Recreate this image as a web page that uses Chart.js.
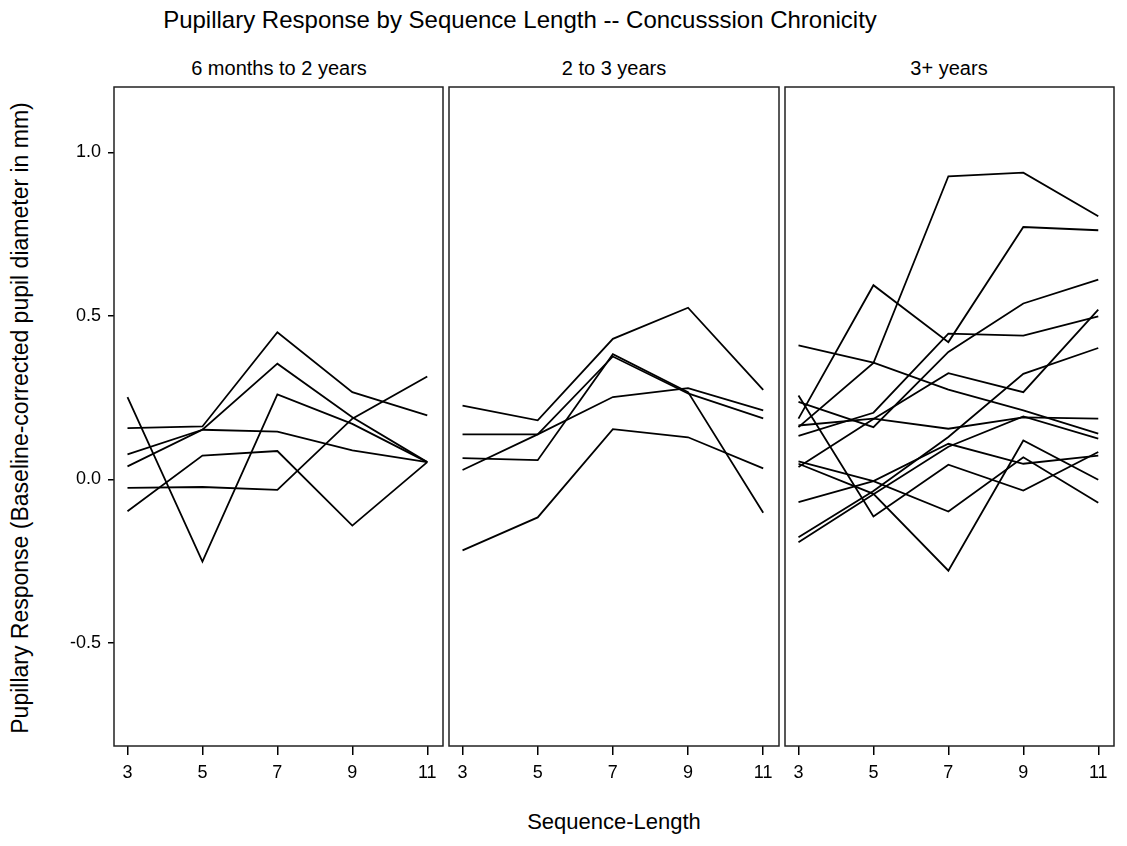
<!DOCTYPE html>
<html><head><meta charset="utf-8">
<script src="https://cdn.jsdelivr.net/npm/chart.js@4.4.1/dist/chart.umd.min.js"></script>
<style>
html,body{margin:0;padding:0;background:#fff;}
#wrap{position:relative;width:1127px;height:846px;background:#fff;font-family:"Liberation Sans",Arial,sans-serif;color:#000;overflow:hidden;}
.t{position:absolute;white-space:nowrap;line-height:1;transform:translate(-50%,-50%);}
canvas{position:absolute;}
</style></head><body>
<div id="wrap">
  <div class="t" id="title" style="left:520px;top:20px;font-size:24px;">Pupillary Response by Sequence Length -- Concusssion Chronicity</div>
  <div class="t" id="p1" style="left:279px;top:68px;font-size:20px;"></div>
  <div class="t" id="p2" style="left:614px;top:68px;font-size:20px;"></div>
  <div class="t" id="p3" style="left:949px;top:68px;font-size:20px;"></div>
  <div class="t" style="left:20px;top:418px;font-size:23px;transform:translate(-50%,-50%) rotate(-90deg);">Pupillary Response (Baseline-corrected pupil diameter in mm)</div>
  <div class="t" style="left:614px;top:822px;font-size:22px;">Sequence-Length</div>
  <canvas id="c1"></canvas>
  <canvas id="c2"></canvas>
  <canvas id="c3"></canvas>
</div>
<script>
// ---- data ----
const panelTitles = ["6 months to 2 years", "2 to 3 years", "3+ years"];
const sequenceLengths = [3, 5, 7, 9, 11];
const xTicks = [3, 5, 7, 9, 11];
const yTicks = [-0.5, 0.0, 0.5, 1.0];

const panel1 = [
  [0.157, 0.162, 0.450, 0.267, 0.196],
  [0.077, 0.152, 0.354, 0.190, 0.053],
  [0.040, 0.152, 0.146, 0.089, 0.053],
  [0.252, -0.251, 0.260, 0.170, 0.053],
  [-0.097, 0.073, 0.087, -0.141, 0.053],
  [-0.026, -0.023, -0.032, 0.186, 0.315]
];
const panel2 = [
  [0.226, 0.181, 0.430, 0.525, 0.274],
  [0.138, 0.138, 0.376, 0.263, 0.187],
  [0.029, 0.138, 0.252, 0.279, 0.211],
  [0.065, 0.059, 0.383, 0.267, -0.102],
  [-0.217, -0.116, 0.154, 0.129, 0.034]
];
const panel3 = [
  [0.160, 0.356, 0.927, 0.938, 0.805],
  [0.186, 0.594, 0.420, 0.772, 0.762],
  [0.410, 0.357, 0.275, 0.211, 0.140],
  [0.257, -0.113, 0.045, -0.034, 0.084],
  [0.237, 0.160, 0.390, 0.538, 0.611],
  [0.133, 0.204, 0.446, 0.440, 0.499],
  [0.038, 0.185, 0.325, 0.267, 0.519],
  [0.165, 0.186, 0.155, 0.190, 0.186],
  [0.055, -0.005, -0.098, 0.068, -0.071],
  [0.048, -0.044, -0.279, 0.119, -0.001],
  [-0.069, -0.005, 0.109, 0.048, 0.073],
  [-0.177, -0.035, 0.130, 0.323, 0.402],
  [-0.192, -0.045, 0.100, 0.193, 0.125]
];

// ---- layout ----
const FONT = '"Liberation Sans", Arial, sans-serif';
Chart.defaults.font.family = FONT;
Chart.defaults.color = '#000';

document.getElementById('p1').textContent = panelTitles[0];
document.getElementById('p2').textContent = panelTitles[1];
document.getElementById('p3').textContent = panelTitles[2];

const frameTop = 87, frameBottom = 746;
const frames = [[114, 443], [449, 779], [785, 1114]];
const PAD = 2, XAXIS_H = 48;

const framePlugin = {
  id: 'frame',
  afterDraw(chart) {
    const a = chart.chartArea, ctx = chart.ctx;
    ctx.save();
    ctx.strokeStyle = '#222';
    ctx.lineWidth = 1.5;
    ctx.strokeRect(a.left, a.top, a.right - a.left, a.bottom - a.top);
    ctx.restore();
  }
};

function makePanel(id, series, idx) {
  const [fl, fr] = frames[idx];
  const showY = idx === 0;
  const L = showY ? 70 : PAD;
  const cv = document.getElementById(id);
  const w = (fr - fl) + L + PAD;
  const h = (frameBottom - frameTop) + PAD + XAXIS_H;
  cv.width = w; cv.height = h;
  cv.style.width = w + 'px'; cv.style.height = h + 'px';
  cv.style.left = (fl - L) + 'px';
  cv.style.top = (frameTop - PAD) + 'px';
  new Chart(cv, {
    type: 'line',
    data: {
      datasets: series.map(s => ({
        data: sequenceLengths.map((x, i) => ({x: x, y: s[i]})),
        borderColor: '#000',
        borderWidth: 1.8,
        pointRadius: 0,
        tension: 0,
        fill: false
      }))
    },
    options: {
      responsive: false,
      animation: false,
      devicePixelRatio: 1,
      layout: {padding: {top: PAD, right: PAD, left: 0, bottom: 0}},
      plugins: {legend: {display: false}, tooltip: {enabled: false}, title: {display: false}},
      scales: {
        x: {
          type: 'linear', min: 2.64, max: 11.42,
          afterBuildTicks: sc => { sc.ticks = xTicks.map(v => ({value: v})); },
          afterFit: sc => { sc.height = XAXIS_H; sc.paddingLeft = 0; sc.paddingRight = 0; },
          grid: {display: true, drawOnChartArea: false, drawTicks: true, tickLength: 9, color: '#000', lineWidth: 1.5},
          border: {display: false},
          ticks: {font: {size: 18, family: FONT}, color: '#000', padding: 7, maxRotation: 0, callback: v => String(v)}
        },
        y: {
          type: 'linear', min: -0.815, max: 1.2,
          display: true,
          afterBuildTicks: sc => { sc.ticks = yTicks.map(v => ({value: v})); },
          afterFit: sc => { sc.width = L; sc.paddingTop = 0; sc.paddingBottom = 0; },
          grid: {display: showY, drawOnChartArea: false, drawTicks: true, tickLength: 6, color: '#000', lineWidth: 1.5},
          border: {display: false},
          ticks: {display: showY, font: {size: 18, family: FONT}, color: '#000', padding: 7, callback: v => v.toFixed(1)}
        }
      }
    },
    plugins: [framePlugin]
  });
}

makePanel('c1', panel1, 0);
makePanel('c2', panel2, 1);
makePanel('c3', panel3, 2);
</script>
</body></html>
